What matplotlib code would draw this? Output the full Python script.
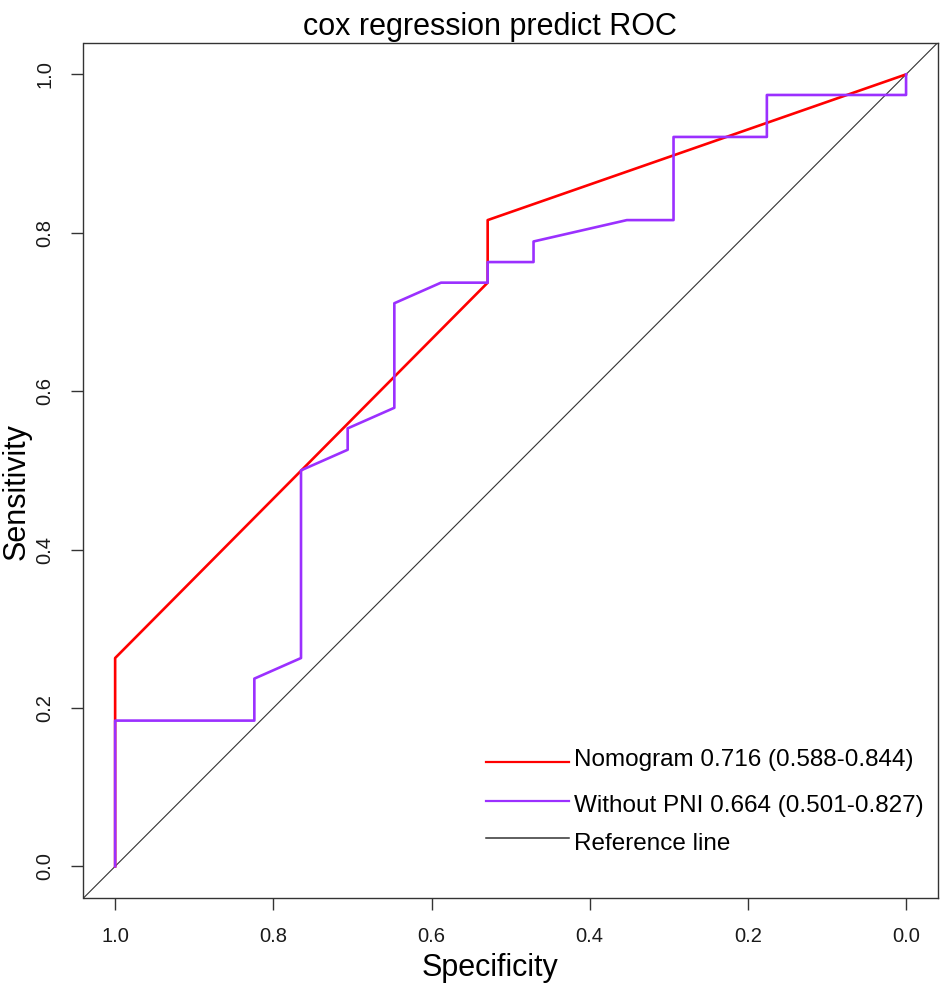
import matplotlib
matplotlib.use("Agg")
import matplotlib.pyplot as plt
from matplotlib.lines import Line2D

plt.rcParams['font.family'] = ['Liberation Sans', 'DejaVu Sans']

# ---- data ----
title = "cox regression predict ROC"
xlabel = "Specificity"
ylabel = "Sensitivity"
tick_values = [0.0, 0.2, 0.4, 0.6, 0.8, 1.0]
tick_labels = ["0.0", "0.2", "0.4", "0.6", "0.8", "1.0"]

nomo_spec = [1.000, 1.000, 0.529, 0.529, 0.000]
nomo_sens = [0.000, 0.263, 0.737, 0.816, 1.000]

pni_spec = [1.000, 1.000, 0.824, 0.824, 0.765, 0.765, 0.706, 0.706, 0.647, 0.647,
            0.588, 0.529, 0.529, 0.471, 0.471, 0.353, 0.294, 0.294, 0.176, 0.176,
            0.000, 0.000]
pni_sens = [0.000, 0.184, 0.184, 0.237, 0.263, 0.500, 0.526, 0.553, 0.579, 0.711,
            0.737, 0.737, 0.763, 0.763, 0.789, 0.816, 0.816, 0.921, 0.921, 0.974,
            0.974, 1.000]

legend_labels = ["Nomogram 0.716 (0.588-0.844)",
                 "Without PNI 0.664 (0.501-0.827)",
                 "Reference line"]
colors = ["#FF0000", "#9B30FF", "#333333"]

# ---- figure ----
W, H = 945, 985
fig = plt.figure(figsize=(W / 100, H / 100), dpi=100)
ax = fig.add_axes([83.5 / W, 1 - 898 / H, (937.7 - 83.5) / W, (898 - 42.7) / H])

ax.set_xlim(1.04, -0.04)
ax.set_ylim(-0.04, 1.04)

ax.axline((1, 0), (0, 1), color=colors[2], lw=0.8, zorder=1)
ax.plot(nomo_spec, nomo_sens, color=colors[0], lw=1.9, zorder=2)
ax.plot(pni_spec, pni_sens, color=colors[1], lw=1.9, zorder=3)

for s in ax.spines.values():
    s.set_color("#333333")
    s.set_linewidth(1.0)

ax.set_xticks(tick_values)
ax.set_xticklabels(tick_labels)
ax.set_yticks(tick_values)
ax.set_yticklabels(tick_labels, rotation=90, va='center')
ax.tick_params(axis='both', length=8.6, width=1.0, color="#333333",
               labelsize=14.5, pad=12.5, labelcolor="#1a1a1a")

def fx(px):
    return px / W

def fy(py):
    return 1 - py / H

fig.text(fx(490), fy(35.5), title, ha='center', va='baseline', fontsize=22)
fig.text(fx(490), fy(976), xlabel, ha='center', va='baseline', fontsize=22)
fig.text(fx(25), fy(491.5), ylabel, ha='center', va='baseline', fontsize=22,
         rotation=90, rotation_mode='anchor')

# legend (no frame)
handle_y = [762.3, 800.7, 838.3]
text_base = [766.0, 811.7, 850.0]
lws = [1.6, 1.6, 1.1]
for lab, c, hy, tb, lw in zip(legend_labels, colors, handle_y, text_base, lws):
    fig.add_artist(Line2D([fx(485.7), fx(569)], [fy(hy), fy(hy)], color=c, lw=lw))
    fig.text(fx(574), fy(tb), lab, ha='left', va='baseline', fontsize=17.5)

fig.savefig("out.png", dpi=100)
